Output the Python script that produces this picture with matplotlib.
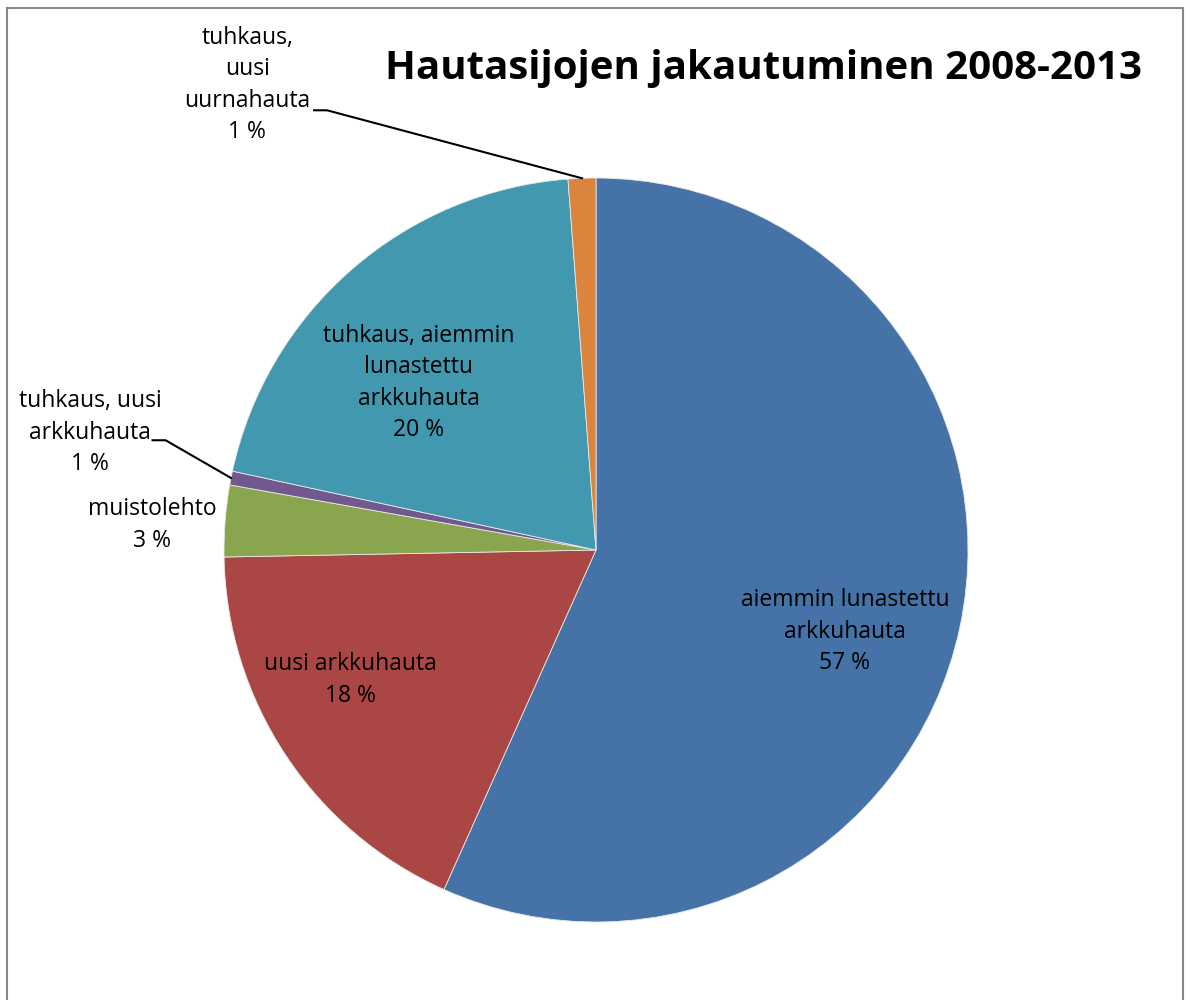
import numpy as np
import matplotlib.pyplot as plt
from matplotlib.patches import Rectangle

# slice data, clockwise from 12 o'clock
labels = ['aiemmin lunastettu\narkkuhauta', 'uusi arkkuhauta', 'muistolehto',
          'tuhkaus, uusi\narkkuhauta', 'tuhkaus, aiemmin\nlunastettu\narkkuhauta',
          'tuhkaus,\nuusi\nuurnahauta']
values = [56.7, 18.0, 3.1, 0.6, 20.4, 1.2]
pct_text = ['57 %', '18 %', '3 %', '1 %', '20 %', '1 %']
colors = ['#4572A7', '#AA4643', '#89A54E', '#71588F', '#4198AF', '#DB843D']

# label positions in pie-radius units
label_pos = [(0.669, -0.22), (-0.659, -0.349), (-1.194, 0.067),
             (-1.36, 0.315), (-0.476, 0.449), (-0.938, 1.25)]
# elbow point of leader line (None = label sits inside)
leader = [None, None, None, (-1.157, 0.295), None, (-0.723, 1.182)]

plt.rcParams['font.family'] = ['Open Sans', 'DejaVu Sans']

fig = plt.figure(figsize=(11.9, 10), dpi=100)

# chart border
fig.patches.append(Rectangle((7 / 1190, -0.01), 1176 / 1190, 1.002,
                             transform=fig.transFigure, fill=False,
                             edgecolor='#888888', linewidth=1.5))

ax = fig.add_axes([224 / 1190, 78 / 1000, 744 / 1190, 744 / 1000])
wedges, _ = ax.pie(values, colors=colors, startangle=90, counterclock=False,
                   radius=1, wedgeprops=dict(edgecolor='#e8e8e8', linewidth=0.6))
ax.set_xlim(-1, 1)
ax.set_ylim(-1, 1)
ax.set_aspect('equal')
ax.axis('off')

for i, w in enumerate(wedges):
    lx, ly = label_pos[i]
    ax.text(lx, ly, labels[i] + '\n' + pct_text[i], ha='center', va='center',
            fontsize=16.5, linespacing=1.42, color='black', clip_on=False)
    if leader[i] is not None:
        mid = np.deg2rad((w.theta1 + w.theta2) / 2)
        ex, ey = np.cos(mid), np.sin(mid)
        bx, by = leader[i]
        ax.plot([ex, bx, bx - 0.035], [ey, by, by], color='black',
                linewidth=1.5, clip_on=False)

fig.text(763 / 1190, 1 - 68 / 1000, 'Hautasijojen jakautuminen 2008-2013',
         ha='center', va='center', fontsize=29, fontweight='bold')

plt.savefig('out.png', dpi=100)
